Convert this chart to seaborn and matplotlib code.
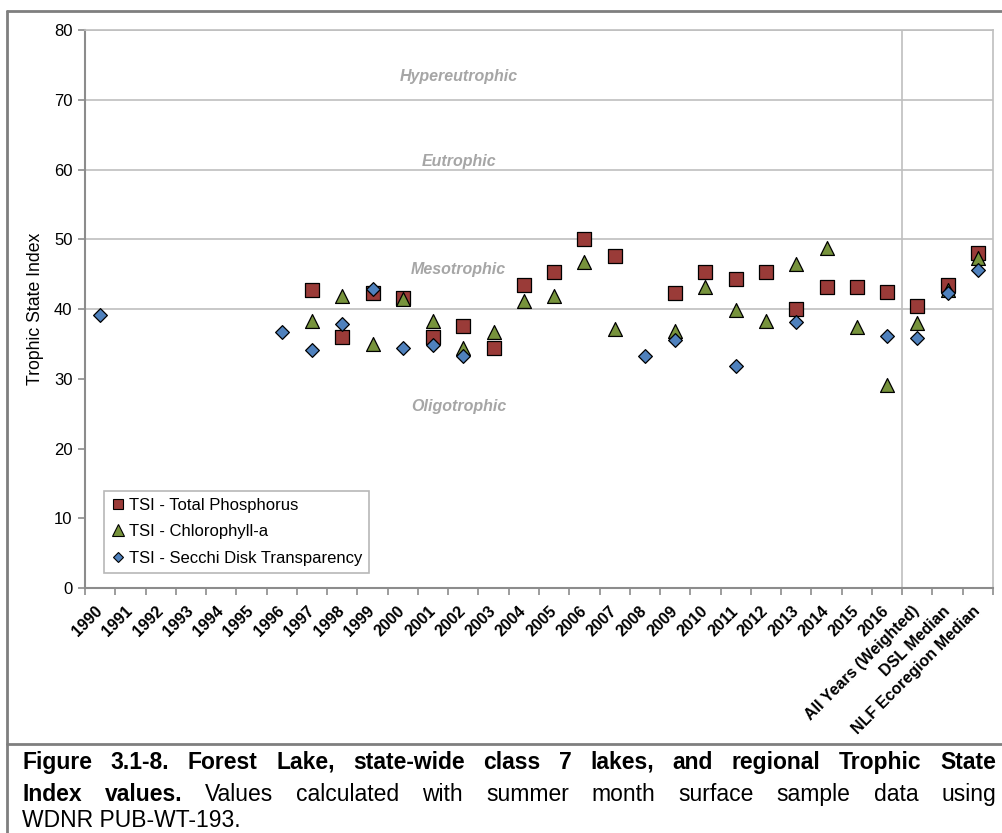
import matplotlib
matplotlib.use('Agg')
import matplotlib.pyplot as plt
from matplotlib.lines import Line2D
import seaborn as sns
import pandas as pd
import numpy as np

nan = np.nan

categories = ['1990', '1991', '1992', '1993', '1994', '1995', '1996', '1997', '1998', '1999',
              '2000', '2001', '2002', '2003', '2004', '2005', '2006', '2007', '2008', '2009',
              '2010', '2011', '2012', '2013', '2014', '2015', '2016',
              'All Years (Weighted)', 'DSL Median', 'NLF Ecoregion Median']

tsi_tp = [nan, nan, nan, nan, nan, nan, nan, 42.7, 36.0, 42.3,
          41.6, 36.0, 37.5, 34.4, 43.4, 45.3, 50.1, 47.6, nan, 42.3,
          45.3, 44.3, 45.3, 40.0, 43.1, 43.2, 42.5,
          40.5, 43.4, 48.1]
tsi_chl = [nan, nan, nan, nan, nan, nan, nan, 38.3, 41.9, 35.0,
           41.4, 38.3, 34.4, 36.7, 41.2, 41.8, 46.8, 37.2, nan, 36.9,
           43.2, 39.8, 38.3, 46.4, 48.8, 37.4, 29.1,
           38.0, 42.8, 47.3]
tsi_sd = [39.1, nan, nan, nan, nan, nan, 36.7, 34.2, 37.8, 42.9,
          34.4, 34.9, 33.3, nan, nan, nan, nan, nan, 33.3, 35.5,
          nan, 31.8, nan, 38.2, nan, nan, 36.2,
          35.8, 42.3, 45.6]

series_names = ['TSI - Total Phosphorus', 'TSI - Chlorophyll-a', 'TSI - Secchi Disk Transparency']
zone_names = ['Hypereutrophic', 'Eutrophic', 'Mesotrophic', 'Oligotrophic']
zone_y = [73.3, 61.2, 45.6, 26.1]

caption_line1 = [('Figure', 'bold'), ('3.1-8.', 'bold'), ('Forest', 'bold'), ('Lake,', 'bold'),
                 ('state-wide', 'bold'), ('class', 'bold'), ('7', 'bold'), ('lakes,', 'bold'),
                 ('and', 'bold'), ('regional', 'bold'), ('Trophic', 'bold'), ('State', 'bold')]
caption_line2 = [('Index', 'bold'), ('values.', 'bold'), ('Values', 'normal'), ('calculated', 'normal'),
                 ('with', 'normal'), ('summer', 'normal'), ('month', 'normal'), ('surface', 'normal'),
                 ('sample', 'normal'), ('data', 'normal'), ('using', 'normal')]
caption_line3 = 'WDNR PUB-WT-193.'

sns.set_style('white')
plt.rcParams['font.family'] = ['Liberation Sans', 'DejaVu Sans']
plt.rcParams['text.color'] = 'black'
plt.rcParams['axes.labelcolor'] = 'black'
plt.rcParams['xtick.labelcolor'] = 'black'
plt.rcParams['ytick.labelcolor'] = 'black'

df = pd.DataFrame({'Category': categories, 'TP': tsi_tp, 'CHL': tsi_chl, 'SD': tsi_sd})

fig = plt.figure(figsize=(10.02, 8.33), dpi=100)
ax = fig.add_axes([0.0848, 0.294, 0.9062, 0.67])

grid_c = '#BFBFBF'
for yv in [40, 50, 60, 70, 80]:
    ax.axhline(yv, color=grid_c, lw=1.2, zorder=0)
ax.axvline(26.5, color=grid_c, lw=1.2, zorder=0)

cols = ['#9A3B38', '#77933C', '#4F81BD']
marks = ['s', '^', 'D']
sizes = [9.5, 10, 7]
for col, c, m, s in zip(['TP', 'CHL', 'SD'], cols, marks, sizes):
    sns.stripplot(data=df, x='Category', y=col, order=categories, jitter=False,
                  marker=m, color=c, size=s, edgecolor='black', linewidth=0.9,
                  ax=ax, zorder=3)

for name, yv in zip(zone_names, zone_y):
    ax.text(11.85, yv, name, ha='center', va='center', fontsize=11.5,
            fontweight='bold', fontstyle='italic', color='#A6A6A6')

ax.set_xlim(-0.5, len(categories) - 0.5)
ax.set_ylim(0, 80)
ax.set_yticks(range(0, 81, 10))
ax.set_xticks(np.arange(-0.5, len(categories), 1.0))
ax.set_xticklabels([])
ax.set_xticks(range(len(categories)), minor=True)
ax.set_xticklabels(categories, minor=True, rotation=45, ha='right', va='center',
                   rotation_mode='anchor', fontweight='bold', fontsize=11.5)
ax.tick_params(axis='x', which='major', length=5, width=1.2, color='#8C8C8C', direction='out', bottom=True)
ax.tick_params(axis='x', which='minor', length=0, pad=15, bottom=True)
ax.tick_params(axis='y', length=5, width=1.2, color='#8C8C8C', direction='out', labelsize=12, pad=4, left=True)
ax.set_xlabel('')
ax.set_ylabel('Trophic State Index', fontsize=12.7, labelpad=7)

for sp in ['left', 'bottom']:
    ax.spines[sp].set_color('#8C8C8C')
    ax.spines[sp].set_linewidth(1.5)
for sp in ['top', 'right']:
    ax.spines[sp].set_color(grid_c)
    ax.spines[sp].set_linewidth(1.2)

handles = [Line2D([], [], ls='none', marker=m, color=c, markeredgecolor='black',
                  markeredgewidth=0.8, markersize=s * 0.8)
           for c, m, s in zip(cols, marks, sizes)]
leg = ax.legend(handles, series_names, loc='upper left', bbox_to_anchor=(0.021, 0.174),
                borderaxespad=0, frameon=True, fancybox=False, fontsize=12,
                handlelength=0.8, handletextpad=0.25, labelspacing=0.68, borderpad=0.42)
leg.get_frame().set_edgecolor('#A6A6A6')
leg.get_frame().set_linewidth(1.2)

# figure frame
border_c = '#7F7F7F'
fig.add_artist(Line2D([7 / 1002, 1], [1 - 11 / 833, 1 - 11 / 833], color=border_c, lw=2))
fig.add_artist(Line2D([7 / 1002, 7 / 1002], [0, 1 - 11 / 833], color=border_c, lw=2))
fig.add_artist(Line2D([7 / 1002, 1], [1 - 744 / 833, 1 - 744 / 833], color=border_c, lw=2))

# justified caption
renderer = fig.canvas.get_renderer()
cap_size = 16.5


def justified(words, y_px, x0=22, x1=996):
    texts = []
    widths = []
    for w, wt in words:
        t = fig.text(0, 1 - y_px / 833, w, fontsize=cap_size, fontweight=wt, va='baseline', ha='left')
        widths.append(t.get_window_extent(renderer).width)
        texts.append(t)
    gap = (x1 - x0 - sum(widths)) / (len(words) - 1)
    x = x0
    for t, wd in zip(texts, widths):
        t.set_x(x / 1002)
        x += wd + gap


justified(caption_line1, 769)
justified(caption_line2, 801)
fig.text(22 / 1002, 1 - 827 / 833, caption_line3, fontsize=cap_size, va='baseline', ha='left')

fig.savefig('out.png', dpi=100)
